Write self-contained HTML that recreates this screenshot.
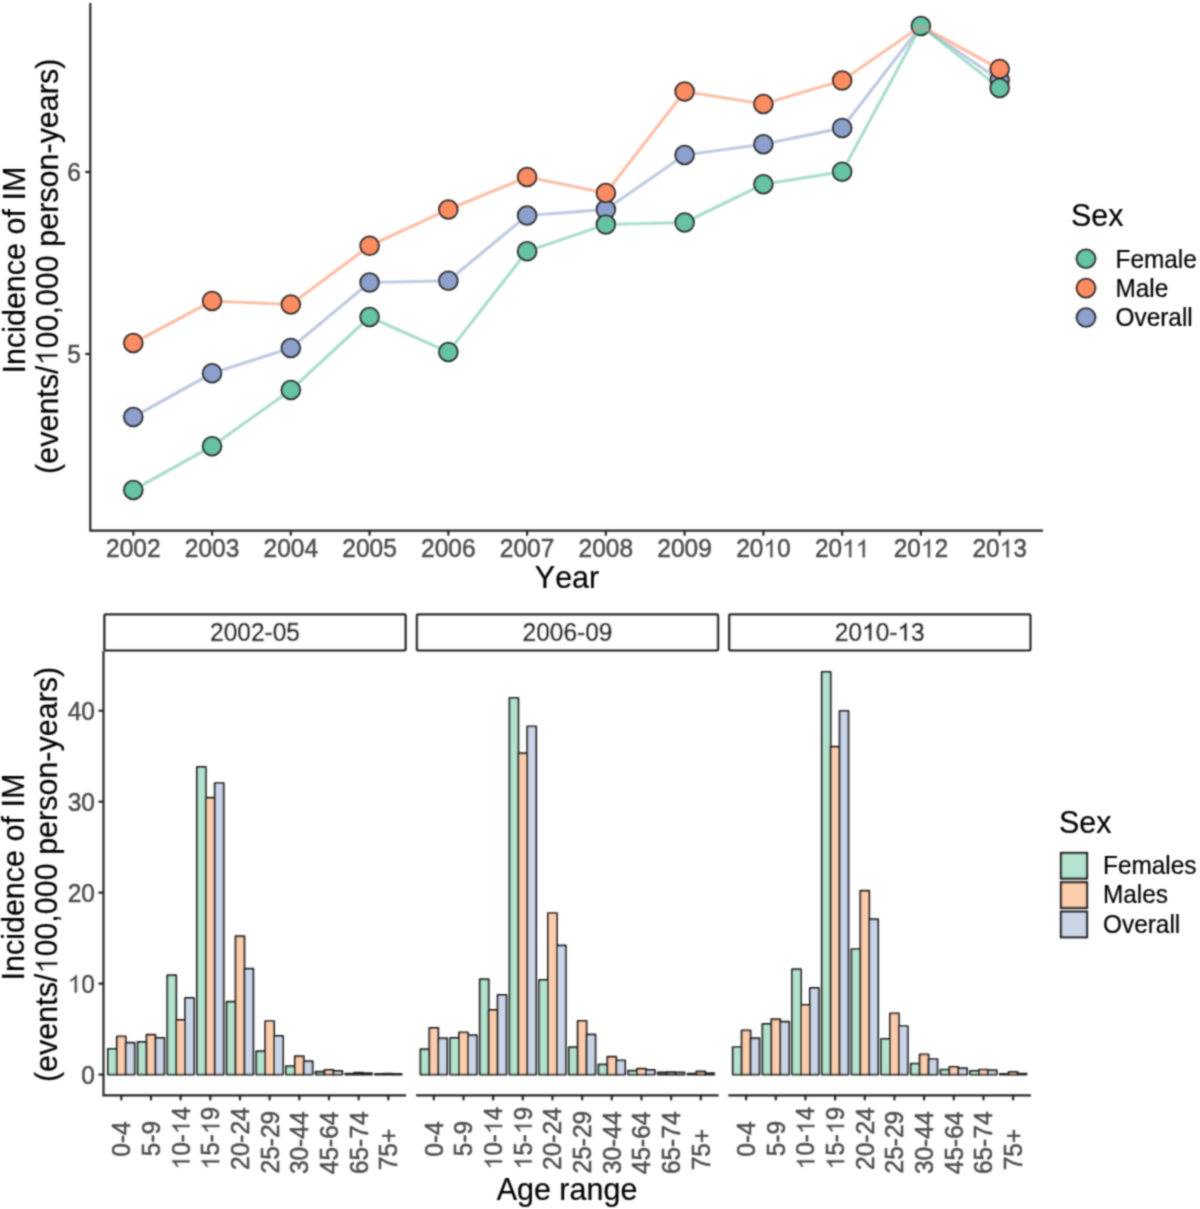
<!DOCTYPE html>
<html><head><meta charset="utf-8"><style>html,body{margin:0;padding:0;background:#fff;}svg{display:block;font-family:"Liberation Sans",sans-serif;}text{font-kerning:none;font-feature-settings:"kern" 0;}text{stroke-width:0.5px;} text[stroke="#000000"]{stroke-width:0.2px;}</style></head><body>
<svg width="1200" height="1209" viewBox="0 0 1200 1209">
<defs><filter id="bl" x="0" y="0" width="1200" height="1209" filterUnits="userSpaceOnUse"><feConvolveMatrix order="5" kernelMatrix="0.00023 0.00332 0.00809 0.00332 0.00023 0.00332 0.04785 0.11640 0.04785 0.00332 0.00809 0.11640 0.28313 0.11640 0.00809 0.00332 0.04785 0.11640 0.04785 0.00332 0.00023 0.00332 0.00809 0.00332 0.00023" preserveAlpha="false" edgeMode="duplicate"></feConvolveMatrix></filter></defs>
<rect width="1200" height="1209" fill="#fff"></rect>
<g filter="url(#bl)">
<g stroke="#262626" stroke-width="2.2" fill="none" stroke-linecap="butt">
<path d="M90.3,3.0 V530.7 H1043.0"></path>
<path d="M85.3,172.0 H90.3"></path>
<path d="M85.3,354.0 H90.3"></path>
<path d="M133.30,530.7 V535.7"></path>
<path d="M212.06,530.7 V535.7"></path>
<path d="M290.82,530.7 V535.7"></path>
<path d="M369.58,530.7 V535.7"></path>
<path d="M448.34,530.7 V535.7"></path>
<path d="M527.10,530.7 V535.7"></path>
<path d="M605.86,530.7 V535.7"></path>
<path d="M684.62,530.7 V535.7"></path>
<path d="M763.38,530.7 V535.7"></path>
<path d="M842.14,530.7 V535.7"></path>
<path d="M920.90,530.7 V535.7"></path>
<path d="M999.66,530.7 V535.7"></path>
</g>
<g fill="#4d4d4d" stroke="#4d4d4d" font-size="24.5" text-anchor="end">
<text transform="translate(81,181) scale(1,1.04)">6</text>
<text transform="translate(81,363) scale(1,1.04)">5</text>
</g>
<g fill="#4d4d4d" stroke="#4d4d4d" font-size="24.5" text-anchor="middle">
<text transform="translate(133.30,557.2) scale(1,1.04)">2002</text>
<text transform="translate(212.06,557.2) scale(1,1.04)">2003</text>
<text transform="translate(290.82,557.2) scale(1,1.04)">2004</text>
<text transform="translate(369.58,557.2) scale(1,1.04)">2005</text>
<text transform="translate(448.34,557.2) scale(1,1.04)">2006</text>
<text transform="translate(527.10,557.2) scale(1,1.04)">2007</text>
<text transform="translate(605.86,557.2) scale(1,1.04)">2008</text>
<text transform="translate(684.62,557.2) scale(1,1.04)">2009</text>
<text transform="translate(763.38,557.2) scale(1,1.04)">2010</text><g transform="translate(763.38,557.2) scale(1,1.04)"><rect x="0.46" y="-18.18" width="13.28" height="19.74" fill="#fff" stroke="none"></rect><path d="M9.11,0.00 L6.96,0.00 L6.96,-13.14 Q6.18,-12.42 4.91,-11.74 Q3.66,-11.01 2.65,-10.65 L2.65,-12.64 Q4.46,-13.45 5.81,-14.61 Q7.16,-15.77 7.72,-16.86 L9.11,-16.86 Z" fill="rgb(77, 77, 77)" stroke="rgb(77, 77, 77)" stroke-width="0.5px" stroke-linejoin="round"></path></g>
<text transform="translate(842.14,557.2) scale(1,1.04)">2011</text><g transform="translate(842.14,557.2) scale(1,1.04)"><rect x="0.46" y="-18.18" width="13.28" height="19.74" fill="#fff" stroke="none"></rect><path d="M9.11,0.00 L6.96,0.00 L6.96,-13.14 Q6.18,-12.42 4.91,-11.74 Q3.66,-11.01 2.65,-10.65 L2.65,-12.64 Q4.46,-13.45 5.81,-14.61 Q7.16,-15.77 7.72,-16.86 L9.11,-16.86 Z" fill="rgb(77, 77, 77)" stroke="rgb(77, 77, 77)" stroke-width="0.5px" stroke-linejoin="round"></path><rect x="14.08" y="-18.18" width="13.28" height="19.74" fill="#fff" stroke="none"></rect><path d="M22.73,0.00 L20.57,0.00 L20.57,-13.14 Q19.80,-12.42 18.53,-11.74 Q17.27,-11.01 16.27,-10.65 L16.27,-12.64 Q18.07,-13.45 19.43,-14.61 Q20.78,-15.77 21.34,-16.86 L22.73,-16.86 Z" fill="rgb(77, 77, 77)" stroke="rgb(77, 77, 77)" stroke-width="0.5px" stroke-linejoin="round"></path></g>
<text transform="translate(920.90,557.2) scale(1,1.04)">2012</text><g transform="translate(920.90,557.2) scale(1,1.04)"><rect x="0.46" y="-18.18" width="13.28" height="19.74" fill="#fff" stroke="none"></rect><path d="M9.11,0.00 L6.96,0.00 L6.96,-13.14 Q6.18,-12.42 4.91,-11.74 Q3.66,-11.01 2.65,-10.65 L2.65,-12.64 Q4.46,-13.45 5.81,-14.61 Q7.16,-15.77 7.72,-16.86 L9.11,-16.86 Z" fill="rgb(77, 77, 77)" stroke="rgb(77, 77, 77)" stroke-width="0.5px" stroke-linejoin="round"></path></g>
<text transform="translate(999.66,557.2) scale(1,1.04)">2013</text><g transform="translate(999.66,557.2) scale(1,1.04)"><rect x="0.46" y="-18.18" width="13.28" height="19.74" fill="#fff" stroke="none"></rect><path d="M9.11,0.00 L6.96,0.00 L6.96,-13.14 Q6.18,-12.42 4.91,-11.74 Q3.66,-11.01 2.65,-10.65 L2.65,-12.64 Q4.46,-13.45 5.81,-14.61 Q7.16,-15.77 7.72,-16.86 L9.11,-16.86 Z" fill="rgb(77, 77, 77)" stroke="rgb(77, 77, 77)" stroke-width="0.5px" stroke-linejoin="round"></path></g>
</g>
<path d="M133.30,417 L212.06,373.25 L290.82,348 L369.58,282.5 L448.34,280.75 L527.10,215.5 L605.86,209.5 L684.62,155 L763.38,144.25 L842.14,128 L920.90,26 L999.66,80" fill="none" stroke="#8da0cb" stroke-opacity="0.55" stroke-width="3.2" stroke-linejoin="round"></path>
<path d="M133.30,343 L212.06,301 L290.82,304.5 L369.58,245.75 L448.34,209.5 L527.10,177 L605.86,193 L684.62,91.5 L763.38,104 L842.14,80.5 L920.90,26 L999.66,69" fill="none" stroke="#fc8d62" stroke-opacity="0.55" stroke-width="3.2" stroke-linejoin="round"></path>
<path d="M133.30,490 L212.06,446.25 L290.82,390 L369.58,317 L448.34,352 L527.10,251.25 L605.86,224.5 L684.62,222.5 L763.38,184.25 L842.14,171.75 L920.90,26 L999.66,88" fill="none" stroke="#66c2a5" stroke-opacity="0.55" stroke-width="3.2" stroke-linejoin="round"></path>
<circle cx="133.30" cy="417" r="9.3" fill="#8da0cb" stroke="#2a2a2a" stroke-width="2.0"></circle>
<circle cx="212.06" cy="373.25" r="9.3" fill="#8da0cb" stroke="#2a2a2a" stroke-width="2.0"></circle>
<circle cx="290.82" cy="348" r="9.3" fill="#8da0cb" stroke="#2a2a2a" stroke-width="2.0"></circle>
<circle cx="369.58" cy="282.5" r="9.3" fill="#8da0cb" stroke="#2a2a2a" stroke-width="2.0"></circle>
<circle cx="448.34" cy="280.75" r="9.3" fill="#8da0cb" stroke="#2a2a2a" stroke-width="2.0"></circle>
<circle cx="527.10" cy="215.5" r="9.3" fill="#8da0cb" stroke="#2a2a2a" stroke-width="2.0"></circle>
<circle cx="605.86" cy="209.5" r="9.3" fill="#8da0cb" stroke="#2a2a2a" stroke-width="2.0"></circle>
<circle cx="684.62" cy="155" r="9.3" fill="#8da0cb" stroke="#2a2a2a" stroke-width="2.0"></circle>
<circle cx="763.38" cy="144.25" r="9.3" fill="#8da0cb" stroke="#2a2a2a" stroke-width="2.0"></circle>
<circle cx="842.14" cy="128" r="9.3" fill="#8da0cb" stroke="#2a2a2a" stroke-width="2.0"></circle>
<circle cx="999.66" cy="80" r="9.3" fill="#8da0cb" stroke="#2a2a2a" stroke-width="2.0"></circle>
<circle cx="133.30" cy="343" r="9.3" fill="#fc8d62" stroke="#2a2a2a" stroke-width="2.0"></circle>
<circle cx="212.06" cy="301" r="9.3" fill="#fc8d62" stroke="#2a2a2a" stroke-width="2.0"></circle>
<circle cx="290.82" cy="304.5" r="9.3" fill="#fc8d62" stroke="#2a2a2a" stroke-width="2.0"></circle>
<circle cx="369.58" cy="245.75" r="9.3" fill="#fc8d62" stroke="#2a2a2a" stroke-width="2.0"></circle>
<circle cx="448.34" cy="209.5" r="9.3" fill="#fc8d62" stroke="#2a2a2a" stroke-width="2.0"></circle>
<circle cx="527.10" cy="177" r="9.3" fill="#fc8d62" stroke="#2a2a2a" stroke-width="2.0"></circle>
<circle cx="605.86" cy="193" r="9.3" fill="#fc8d62" stroke="#2a2a2a" stroke-width="2.0"></circle>
<circle cx="684.62" cy="91.5" r="9.3" fill="#fc8d62" stroke="#2a2a2a" stroke-width="2.0"></circle>
<circle cx="763.38" cy="104" r="9.3" fill="#fc8d62" stroke="#2a2a2a" stroke-width="2.0"></circle>
<circle cx="842.14" cy="80.5" r="9.3" fill="#fc8d62" stroke="#2a2a2a" stroke-width="2.0"></circle>
<circle cx="999.66" cy="69" r="9.3" fill="#fc8d62" stroke="#2a2a2a" stroke-width="2.0"></circle>
<circle cx="133.30" cy="490" r="9.3" fill="#66c2a5" stroke="#2a2a2a" stroke-width="2.0"></circle>
<circle cx="212.06" cy="446.25" r="9.3" fill="#66c2a5" stroke="#2a2a2a" stroke-width="2.0"></circle>
<circle cx="290.82" cy="390" r="9.3" fill="#66c2a5" stroke="#2a2a2a" stroke-width="2.0"></circle>
<circle cx="369.58" cy="317" r="9.3" fill="#66c2a5" stroke="#2a2a2a" stroke-width="2.0"></circle>
<circle cx="448.34" cy="352" r="9.3" fill="#66c2a5" stroke="#2a2a2a" stroke-width="2.0"></circle>
<circle cx="527.10" cy="251.25" r="9.3" fill="#66c2a5" stroke="#2a2a2a" stroke-width="2.0"></circle>
<circle cx="605.86" cy="224.5" r="9.3" fill="#66c2a5" stroke="#2a2a2a" stroke-width="2.0"></circle>
<circle cx="684.62" cy="222.5" r="9.3" fill="#66c2a5" stroke="#2a2a2a" stroke-width="2.0"></circle>
<circle cx="763.38" cy="184.25" r="9.3" fill="#66c2a5" stroke="#2a2a2a" stroke-width="2.0"></circle>
<circle cx="842.14" cy="171.75" r="9.3" fill="#66c2a5" stroke="#2a2a2a" stroke-width="2.0"></circle>
<circle cx="999.66" cy="88" r="9.3" fill="#66c2a5" stroke="#2a2a2a" stroke-width="2.0"></circle>
<circle cx="920.90" cy="26" r="9.3" fill="#66c2a5" stroke="#2a2a2a" stroke-width="2.0"></circle>
<clipPath id="c12"><circle cx="920.90" cy="26" r="9.3"></circle></clipPath>
<g clip-path="url(#c12)">
<path d="M842.14,128 L920.90,26 L999.66,80" fill="none" stroke="#8da0cb" stroke-opacity="0.55" stroke-width="3.2"></path>
<path d="M842.14,80.5 L920.90,26 L999.66,69" fill="none" stroke="#fc8d62" stroke-opacity="0.55" stroke-width="3.2"></path>
<path d="M842.14,171.75 L920.90,26 L999.66,88" fill="none" stroke="#66c2a5" stroke-opacity="0.55" stroke-width="3.2"></path>
</g>
<text transform="translate(567,587.8) scale(1,1.04)" font-size="30.5" fill="#000000" stroke="#000000" text-anchor="middle">Year</text>
<text transform="translate(24.5,270.1) rotate(-90) scale(1,1.04)" font-size="30.5" fill="#000000" stroke="#000000" text-anchor="middle">Incidence of IM</text>
<text transform="translate(57.6,266.3) rotate(-90) scale(1,1.04)" font-size="30.5" fill="#000000" stroke="#000000" text-anchor="middle">(events/100,000 person-years)</text><g transform="translate(57.6,266.3) rotate(-90) scale(1,1.04)"><rect x="-98.58" y="-22.64" width="16.53" height="24.57" fill="#fff" stroke="none"></rect><path d="M-87.81,0.00 L-90.49,0.00 L-90.49,-16.35 Q-91.46,-15.46 -93.04,-14.61 Q-94.60,-13.70 -95.86,-13.25 L-95.86,-15.74 Q-93.61,-16.74 -91.92,-18.18 Q-90.24,-19.63 -89.54,-20.98 L-87.81,-20.98 Z" fill="rgb(0, 0, 0)" stroke="rgb(0, 0, 0)" stroke-width="0.2px" stroke-linejoin="round"></path></g>
<text transform="translate(1071,226.25) scale(1,1.04)" font-size="30.5" fill="#000000" stroke="#000000">Sex</text>
<path d="M1074,258.75 H1098" stroke="#66c2a5" stroke-opacity="0.35" stroke-width="3"></path>
<circle cx="1086" cy="258.75" r="9.3" fill="#66c2a5" stroke="#2a2a2a" stroke-width="2.0"></circle>
<text transform="translate(1115.5,267.75) scale(1,1.04)" font-size="24.4" fill="#000000" stroke="#000000">Female</text>
<path d="M1074,288.1 H1098" stroke="#fc8d62" stroke-opacity="0.35" stroke-width="3"></path>
<circle cx="1086" cy="288.1" r="9.3" fill="#fc8d62" stroke="#2a2a2a" stroke-width="2.0"></circle>
<text transform="translate(1115.5,296.9) scale(1,1.04)" font-size="24.4" fill="#000000" stroke="#000000">Male</text>
<path d="M1074,317.5 H1098" stroke="#8da0cb" stroke-opacity="0.35" stroke-width="3"></path>
<circle cx="1086" cy="317.5" r="9.3" fill="#8da0cb" stroke="#2a2a2a" stroke-width="2.0"></circle>
<text transform="translate(1115.5,325.6) scale(1,1.04)" font-size="24.4" fill="#000000" stroke="#000000">Overall</text>
<rect x="104.50" y="614.5" width="301.00" height="35.7" fill="#fff" stroke="#262626" stroke-width="2.5" rx="1"></rect>
<text transform="translate(255.00,640.6) scale(1,1.04)" font-size="24.5" fill="#1a1a1a" stroke="#1a1a1a" text-anchor="middle">2002-05</text>
<g stroke="#222" stroke-width="1.9" stroke-linejoin="round">
<rect x="107.95" y="1048.90" width="8.90" height="25.70" fill="#b3e2cd"></rect>
<rect x="116.85" y="1036.40" width="8.90" height="38.20" fill="#fdcdac"></rect>
<rect x="125.75" y="1042.70" width="8.90" height="31.90" fill="#cbd5e8"></rect>
<rect x="137.62" y="1042.00" width="8.90" height="32.60" fill="#b3e2cd"></rect>
<rect x="146.52" y="1034.70" width="8.90" height="39.90" fill="#fdcdac"></rect>
<rect x="155.42" y="1038.00" width="8.90" height="36.60" fill="#cbd5e8"></rect>
<rect x="167.28" y="975.30" width="8.90" height="99.30" fill="#b3e2cd"></rect>
<rect x="176.18" y="1020.00" width="8.90" height="54.60" fill="#fdcdac"></rect>
<rect x="185.08" y="998.00" width="8.90" height="76.60" fill="#cbd5e8"></rect>
<rect x="196.95" y="767.00" width="8.90" height="307.60" fill="#b3e2cd"></rect>
<rect x="205.85" y="797.70" width="8.90" height="276.90" fill="#fdcdac"></rect>
<rect x="214.75" y="783.10" width="8.90" height="291.50" fill="#cbd5e8"></rect>
<rect x="226.62" y="1001.70" width="8.90" height="72.90" fill="#b3e2cd"></rect>
<rect x="235.52" y="936.30" width="8.90" height="138.30" fill="#fdcdac"></rect>
<rect x="244.42" y="968.70" width="8.90" height="105.90" fill="#cbd5e8"></rect>
<rect x="256.28" y="1051.30" width="8.90" height="23.30" fill="#b3e2cd"></rect>
<rect x="265.18" y="1021.10" width="8.90" height="53.50" fill="#fdcdac"></rect>
<rect x="274.08" y="1036.00" width="8.90" height="38.60" fill="#cbd5e8"></rect>
<rect x="285.95" y="1066.30" width="8.90" height="8.30" fill="#b3e2cd"></rect>
<rect x="294.85" y="1056.30" width="8.90" height="18.30" fill="#fdcdac"></rect>
<rect x="303.75" y="1061.30" width="8.90" height="13.30" fill="#cbd5e8"></rect>
<rect x="315.62" y="1071.70" width="8.90" height="2.90" fill="#b3e2cd"></rect>
<rect x="324.52" y="1070.00" width="8.90" height="4.60" fill="#fdcdac"></rect>
<rect x="333.42" y="1071.00" width="8.90" height="3.60" fill="#cbd5e8"></rect>
<rect x="345.28" y="1073.70" width="8.90" height="0.90" fill="#b3e2cd"></rect>
<rect x="354.18" y="1072.70" width="8.90" height="1.90" fill="#fdcdac"></rect>
<rect x="363.08" y="1073.30" width="8.90" height="1.30" fill="#cbd5e8"></rect>
<rect x="374.95" y="1074.00" width="8.90" height="0.60" fill="#b3e2cd"></rect>
<rect x="383.85" y="1073.80" width="8.90" height="0.80" fill="#fdcdac"></rect>
<rect x="392.75" y="1074.00" width="8.90" height="0.60" fill="#cbd5e8"></rect>
</g>
<g stroke="#262626" stroke-width="2.2" fill="none">
<path d="M103.5,651.0 V1095.3 H406.1"></path>
<path d="M121.30,1095.3 V1100.3"></path>
<path d="M150.97,1095.3 V1100.3"></path>
<path d="M180.63,1095.3 V1100.3"></path>
<path d="M210.30,1095.3 V1100.3"></path>
<path d="M239.97,1095.3 V1100.3"></path>
<path d="M269.63,1095.3 V1100.3"></path>
<path d="M299.30,1095.3 V1100.3"></path>
<path d="M328.97,1095.3 V1100.3"></path>
<path d="M358.63,1095.3 V1100.3"></path>
<path d="M388.30,1095.3 V1100.3"></path>
</g>
<g font-size="24.5" fill="#4d4d4d" stroke="#4d4d4d" text-anchor="middle">
<text transform="translate(130.30,1139.00) rotate(-90) scale(1,1.04)">0-4</text>
<text transform="translate(159.97,1138.50) rotate(-90) scale(1,1.04)">5-9</text>
<text transform="translate(189.63,1138.10) rotate(-90) scale(1,1.04)">10-14</text><g transform="translate(189.63,1138.10) rotate(-90) scale(1,1.04)"><rect x="-30.84" y="-18.18" width="13.28" height="19.74" fill="#fff" stroke="none"></rect><path d="M-22.19,0.00 L-24.35,0.00 L-24.35,-13.14 Q-25.12,-12.42 -26.39,-11.74 Q-27.65,-11.01 -28.65,-10.65 L-28.65,-12.64 Q-26.85,-13.45 -25.49,-14.61 Q-24.14,-15.77 -23.58,-16.86 L-22.19,-16.86 Z" fill="rgb(77, 77, 77)" stroke="rgb(77, 77, 77)" stroke-width="0.5px" stroke-linejoin="round"></path><rect x="4.55" y="-18.18" width="13.28" height="19.74" fill="#fff" stroke="none"></rect><path d="M13.20,0.00 L11.05,0.00 L11.05,-13.14 Q10.27,-12.42 9.00,-11.74 Q7.75,-11.01 6.74,-10.65 L6.74,-12.64 Q8.55,-13.45 9.90,-14.61 Q11.25,-15.77 11.81,-16.86 L13.20,-16.86 Z" fill="rgb(77, 77, 77)" stroke="rgb(77, 77, 77)" stroke-width="0.5px" stroke-linejoin="round"></path></g>
<text transform="translate(219.30,1138.10) rotate(-90) scale(1,1.04)">15-19</text><g transform="translate(219.30,1138.10) rotate(-90) scale(1,1.04)"><rect x="-30.84" y="-18.18" width="13.28" height="19.74" fill="#fff" stroke="none"></rect><path d="M-22.19,0.00 L-24.35,0.00 L-24.35,-13.14 Q-25.12,-12.42 -26.39,-11.74 Q-27.65,-11.01 -28.65,-10.65 L-28.65,-12.64 Q-26.85,-13.45 -25.49,-14.61 Q-24.14,-15.77 -23.58,-16.86 L-22.19,-16.86 Z" fill="rgb(77, 77, 77)" stroke="rgb(77, 77, 77)" stroke-width="0.5px" stroke-linejoin="round"></path><rect x="4.55" y="-18.18" width="13.28" height="19.74" fill="#fff" stroke="none"></rect><path d="M13.20,0.00 L11.05,0.00 L11.05,-13.14 Q10.27,-12.42 9.00,-11.74 Q7.75,-11.01 6.74,-10.65 L6.74,-12.64 Q8.55,-13.45 9.90,-14.61 Q11.25,-15.77 11.81,-16.86 L13.20,-16.86 Z" fill="rgb(77, 77, 77)" stroke="rgb(77, 77, 77)" stroke-width="0.5px" stroke-linejoin="round"></path></g>
<text transform="translate(248.97,1138.60) rotate(-90) scale(1,1.04)">20-24</text>
<text transform="translate(278.63,1142.10) rotate(-90) scale(1,1.04)">25-29</text>
<text transform="translate(308.30,1142.80) rotate(-90) scale(1,1.04)">30-44</text>
<text transform="translate(337.97,1142.90) rotate(-90) scale(1,1.04)">45-64</text>
<text transform="translate(367.63,1142.80) rotate(-90) scale(1,1.04)">65-74</text>
<text transform="translate(397.30,1149.50) rotate(-90) scale(1,1.04)">75+</text>
</g>
<rect x="417.00" y="614.5" width="301.00" height="35.7" fill="#fff" stroke="#262626" stroke-width="2.5" rx="1"></rect>
<text transform="translate(567.50,640.6) scale(1,1.04)" font-size="24.5" fill="#1a1a1a" stroke="#1a1a1a" text-anchor="middle">2006-09</text>
<g stroke="#222" stroke-width="1.9" stroke-linejoin="round">
<rect x="420.45" y="1049.30" width="8.90" height="25.30" fill="#b3e2cd"></rect>
<rect x="429.35" y="1028.00" width="8.90" height="46.60" fill="#fdcdac"></rect>
<rect x="438.25" y="1038.30" width="8.90" height="36.30" fill="#cbd5e8"></rect>
<rect x="450.12" y="1038.00" width="8.90" height="36.60" fill="#b3e2cd"></rect>
<rect x="459.02" y="1032.40" width="8.90" height="42.20" fill="#fdcdac"></rect>
<rect x="467.92" y="1035.30" width="8.90" height="39.30" fill="#cbd5e8"></rect>
<rect x="479.78" y="979.30" width="8.90" height="95.30" fill="#b3e2cd"></rect>
<rect x="488.68" y="1010.00" width="8.90" height="64.60" fill="#fdcdac"></rect>
<rect x="497.58" y="995.00" width="8.90" height="79.60" fill="#cbd5e8"></rect>
<rect x="509.45" y="697.90" width="8.90" height="376.70" fill="#b3e2cd"></rect>
<rect x="518.35" y="753.30" width="8.90" height="321.30" fill="#fdcdac"></rect>
<rect x="527.25" y="726.40" width="8.90" height="348.20" fill="#cbd5e8"></rect>
<rect x="539.12" y="980.00" width="8.90" height="94.60" fill="#b3e2cd"></rect>
<rect x="548.02" y="913.10" width="8.90" height="161.50" fill="#fdcdac"></rect>
<rect x="556.92" y="945.50" width="8.90" height="129.10" fill="#cbd5e8"></rect>
<rect x="568.78" y="1047.30" width="8.90" height="27.30" fill="#b3e2cd"></rect>
<rect x="577.68" y="1020.90" width="8.90" height="53.70" fill="#fdcdac"></rect>
<rect x="586.58" y="1034.50" width="8.90" height="40.10" fill="#cbd5e8"></rect>
<rect x="598.45" y="1064.50" width="8.90" height="10.10" fill="#b3e2cd"></rect>
<rect x="607.35" y="1056.70" width="8.90" height="17.90" fill="#fdcdac"></rect>
<rect x="616.25" y="1060.40" width="8.90" height="14.20" fill="#cbd5e8"></rect>
<rect x="628.12" y="1070.80" width="8.90" height="3.80" fill="#b3e2cd"></rect>
<rect x="637.02" y="1068.75" width="8.90" height="5.85" fill="#fdcdac"></rect>
<rect x="645.92" y="1070.00" width="8.90" height="4.60" fill="#cbd5e8"></rect>
<rect x="657.78" y="1072.50" width="8.90" height="2.10" fill="#b3e2cd"></rect>
<rect x="666.68" y="1072.20" width="8.90" height="2.40" fill="#fdcdac"></rect>
<rect x="675.58" y="1072.40" width="8.90" height="2.20" fill="#cbd5e8"></rect>
<rect x="687.45" y="1073.75" width="8.90" height="0.85" fill="#b3e2cd"></rect>
<rect x="696.35" y="1071.50" width="8.90" height="3.10" fill="#fdcdac"></rect>
<rect x="705.25" y="1073.30" width="8.90" height="1.30" fill="#cbd5e8"></rect>
</g>
<g stroke="#262626" stroke-width="2.2" fill="none">
<path d="M416.0,1095.3 H718.6"></path>
<path d="M433.80,1095.3 V1100.3"></path>
<path d="M463.47,1095.3 V1100.3"></path>
<path d="M493.13,1095.3 V1100.3"></path>
<path d="M522.80,1095.3 V1100.3"></path>
<path d="M552.47,1095.3 V1100.3"></path>
<path d="M582.13,1095.3 V1100.3"></path>
<path d="M611.80,1095.3 V1100.3"></path>
<path d="M641.47,1095.3 V1100.3"></path>
<path d="M671.13,1095.3 V1100.3"></path>
<path d="M700.80,1095.3 V1100.3"></path>
</g>
<g font-size="24.5" fill="#4d4d4d" stroke="#4d4d4d" text-anchor="middle">
<text transform="translate(442.80,1139.00) rotate(-90) scale(1,1.04)">0-4</text>
<text transform="translate(472.47,1138.50) rotate(-90) scale(1,1.04)">5-9</text>
<text transform="translate(502.13,1138.10) rotate(-90) scale(1,1.04)">10-14</text><g transform="translate(502.13,1138.10) rotate(-90) scale(1,1.04)"><rect x="-30.84" y="-18.18" width="13.28" height="19.74" fill="#fff" stroke="none"></rect><path d="M-22.19,0.00 L-24.35,0.00 L-24.35,-13.14 Q-25.12,-12.42 -26.39,-11.74 Q-27.65,-11.01 -28.65,-10.65 L-28.65,-12.64 Q-26.85,-13.45 -25.49,-14.61 Q-24.14,-15.77 -23.58,-16.86 L-22.19,-16.86 Z" fill="rgb(77, 77, 77)" stroke="rgb(77, 77, 77)" stroke-width="0.5px" stroke-linejoin="round"></path><rect x="4.55" y="-18.18" width="13.28" height="19.74" fill="#fff" stroke="none"></rect><path d="M13.20,0.00 L11.05,0.00 L11.05,-13.14 Q10.27,-12.42 9.00,-11.74 Q7.75,-11.01 6.74,-10.65 L6.74,-12.64 Q8.55,-13.45 9.90,-14.61 Q11.25,-15.77 11.81,-16.86 L13.20,-16.86 Z" fill="rgb(77, 77, 77)" stroke="rgb(77, 77, 77)" stroke-width="0.5px" stroke-linejoin="round"></path></g>
<text transform="translate(531.80,1138.10) rotate(-90) scale(1,1.04)">15-19</text><g transform="translate(531.80,1138.10) rotate(-90) scale(1,1.04)"><rect x="-30.84" y="-18.18" width="13.28" height="19.74" fill="#fff" stroke="none"></rect><path d="M-22.19,0.00 L-24.35,0.00 L-24.35,-13.14 Q-25.12,-12.42 -26.39,-11.74 Q-27.65,-11.01 -28.65,-10.65 L-28.65,-12.64 Q-26.85,-13.45 -25.49,-14.61 Q-24.14,-15.77 -23.58,-16.86 L-22.19,-16.86 Z" fill="rgb(77, 77, 77)" stroke="rgb(77, 77, 77)" stroke-width="0.5px" stroke-linejoin="round"></path><rect x="4.55" y="-18.18" width="13.28" height="19.74" fill="#fff" stroke="none"></rect><path d="M13.20,0.00 L11.05,0.00 L11.05,-13.14 Q10.27,-12.42 9.00,-11.74 Q7.75,-11.01 6.74,-10.65 L6.74,-12.64 Q8.55,-13.45 9.90,-14.61 Q11.25,-15.77 11.81,-16.86 L13.20,-16.86 Z" fill="rgb(77, 77, 77)" stroke="rgb(77, 77, 77)" stroke-width="0.5px" stroke-linejoin="round"></path></g>
<text transform="translate(561.47,1138.60) rotate(-90) scale(1,1.04)">20-24</text>
<text transform="translate(591.13,1142.10) rotate(-90) scale(1,1.04)">25-29</text>
<text transform="translate(620.80,1142.80) rotate(-90) scale(1,1.04)">30-44</text>
<text transform="translate(650.47,1142.90) rotate(-90) scale(1,1.04)">45-64</text>
<text transform="translate(680.13,1142.80) rotate(-90) scale(1,1.04)">65-74</text>
<text transform="translate(709.80,1149.50) rotate(-90) scale(1,1.04)">75+</text>
</g>
<rect x="729.30" y="614.5" width="301.00" height="35.7" fill="#fff" stroke="#262626" stroke-width="2.5" rx="1"></rect>
<text transform="translate(879.80,640.6) scale(1,1.04)" font-size="24.5" fill="#1a1a1a" stroke="#1a1a1a" text-anchor="middle">2010-13</text><g transform="translate(879.80,640.6) scale(1,1.04)"><rect x="-17.23" y="-18.18" width="13.28" height="19.74" fill="#fff" stroke="none"></rect><path d="M-8.58,0.00 L-10.74,0.00 L-10.74,-13.14 Q-11.52,-12.42 -12.78,-11.74 Q-14.04,-11.01 -15.04,-10.65 L-15.04,-12.64 Q-13.24,-13.45 -11.89,-14.61 Q-10.53,-15.77 -9.97,-16.86 L-8.58,-16.86 Z" fill="rgb(26, 26, 26)" stroke="rgb(26, 26, 26)" stroke-width="0.5px" stroke-linejoin="round"></path><rect x="18.16" y="-18.18" width="13.28" height="19.74" fill="#fff" stroke="none"></rect><path d="M26.81,0.00 L24.66,0.00 L24.66,-13.14 Q23.88,-12.42 22.61,-11.74 Q21.35,-11.01 20.35,-10.65 L20.35,-12.64 Q22.16,-13.45 23.51,-14.61 Q24.86,-15.77 25.42,-16.86 L26.81,-16.86 Z" fill="rgb(26, 26, 26)" stroke="rgb(26, 26, 26)" stroke-width="0.5px" stroke-linejoin="round"></path></g>
<g stroke="#222" stroke-width="1.9" stroke-linejoin="round">
<rect x="732.75" y="1047.10" width="8.90" height="27.50" fill="#b3e2cd"></rect>
<rect x="741.65" y="1030.40" width="8.90" height="44.20" fill="#fdcdac"></rect>
<rect x="750.55" y="1038.30" width="8.90" height="36.30" fill="#cbd5e8"></rect>
<rect x="762.42" y="1024.00" width="8.90" height="50.60" fill="#b3e2cd"></rect>
<rect x="771.32" y="1019.30" width="8.90" height="55.30" fill="#fdcdac"></rect>
<rect x="780.22" y="1021.70" width="8.90" height="52.90" fill="#cbd5e8"></rect>
<rect x="792.08" y="969.30" width="8.90" height="105.30" fill="#b3e2cd"></rect>
<rect x="800.98" y="1004.90" width="8.90" height="69.70" fill="#fdcdac"></rect>
<rect x="809.88" y="988.00" width="8.90" height="86.60" fill="#cbd5e8"></rect>
<rect x="821.75" y="671.90" width="8.90" height="402.70" fill="#b3e2cd"></rect>
<rect x="830.65" y="746.80" width="8.90" height="327.80" fill="#fdcdac"></rect>
<rect x="839.55" y="710.90" width="8.90" height="363.70" fill="#cbd5e8"></rect>
<rect x="851.42" y="949.10" width="8.90" height="125.50" fill="#b3e2cd"></rect>
<rect x="860.32" y="890.80" width="8.90" height="183.80" fill="#fdcdac"></rect>
<rect x="869.22" y="919.30" width="8.90" height="155.30" fill="#cbd5e8"></rect>
<rect x="881.08" y="1038.90" width="8.90" height="35.70" fill="#b3e2cd"></rect>
<rect x="889.98" y="1013.40" width="8.90" height="61.20" fill="#fdcdac"></rect>
<rect x="898.88" y="1026.10" width="8.90" height="48.50" fill="#cbd5e8"></rect>
<rect x="910.75" y="1063.65" width="8.90" height="10.95" fill="#b3e2cd"></rect>
<rect x="919.65" y="1054.40" width="8.90" height="20.20" fill="#fdcdac"></rect>
<rect x="928.55" y="1059.10" width="8.90" height="15.50" fill="#cbd5e8"></rect>
<rect x="940.42" y="1069.60" width="8.90" height="5.00" fill="#b3e2cd"></rect>
<rect x="949.32" y="1066.90" width="8.90" height="7.70" fill="#fdcdac"></rect>
<rect x="958.22" y="1068.20" width="8.90" height="6.40" fill="#cbd5e8"></rect>
<rect x="970.08" y="1071.00" width="8.90" height="3.60" fill="#b3e2cd"></rect>
<rect x="978.98" y="1069.60" width="8.90" height="5.00" fill="#fdcdac"></rect>
<rect x="987.88" y="1070.20" width="8.90" height="4.40" fill="#cbd5e8"></rect>
<rect x="999.75" y="1073.90" width="8.90" height="0.70" fill="#b3e2cd"></rect>
<rect x="1008.65" y="1071.90" width="8.90" height="2.70" fill="#fdcdac"></rect>
<rect x="1017.55" y="1073.60" width="8.90" height="1.00" fill="#cbd5e8"></rect>
</g>
<g stroke="#262626" stroke-width="2.2" fill="none">
<path d="M728.3,1095.3 H1030.9"></path>
<path d="M746.10,1095.3 V1100.3"></path>
<path d="M775.77,1095.3 V1100.3"></path>
<path d="M805.43,1095.3 V1100.3"></path>
<path d="M835.10,1095.3 V1100.3"></path>
<path d="M864.77,1095.3 V1100.3"></path>
<path d="M894.43,1095.3 V1100.3"></path>
<path d="M924.10,1095.3 V1100.3"></path>
<path d="M953.77,1095.3 V1100.3"></path>
<path d="M983.43,1095.3 V1100.3"></path>
<path d="M1013.10,1095.3 V1100.3"></path>
</g>
<g font-size="24.5" fill="#4d4d4d" stroke="#4d4d4d" text-anchor="middle">
<text transform="translate(755.10,1139.00) rotate(-90) scale(1,1.04)">0-4</text>
<text transform="translate(784.77,1138.50) rotate(-90) scale(1,1.04)">5-9</text>
<text transform="translate(814.43,1138.10) rotate(-90) scale(1,1.04)">10-14</text><g transform="translate(814.43,1138.10) rotate(-90) scale(1,1.04)"><rect x="-30.84" y="-18.18" width="13.28" height="19.74" fill="#fff" stroke="none"></rect><path d="M-22.19,0.00 L-24.35,0.00 L-24.35,-13.14 Q-25.12,-12.42 -26.39,-11.74 Q-27.65,-11.01 -28.65,-10.65 L-28.65,-12.64 Q-26.85,-13.45 -25.49,-14.61 Q-24.14,-15.77 -23.58,-16.86 L-22.19,-16.86 Z" fill="rgb(77, 77, 77)" stroke="rgb(77, 77, 77)" stroke-width="0.5px" stroke-linejoin="round"></path><rect x="4.55" y="-18.18" width="13.28" height="19.74" fill="#fff" stroke="none"></rect><path d="M13.20,0.00 L11.05,0.00 L11.05,-13.14 Q10.27,-12.42 9.00,-11.74 Q7.75,-11.01 6.74,-10.65 L6.74,-12.64 Q8.55,-13.45 9.90,-14.61 Q11.25,-15.77 11.81,-16.86 L13.20,-16.86 Z" fill="rgb(77, 77, 77)" stroke="rgb(77, 77, 77)" stroke-width="0.5px" stroke-linejoin="round"></path></g>
<text transform="translate(844.10,1138.10) rotate(-90) scale(1,1.04)">15-19</text><g transform="translate(844.10,1138.10) rotate(-90) scale(1,1.04)"><rect x="-30.84" y="-18.18" width="13.28" height="19.74" fill="#fff" stroke="none"></rect><path d="M-22.19,0.00 L-24.35,0.00 L-24.35,-13.14 Q-25.12,-12.42 -26.39,-11.74 Q-27.65,-11.01 -28.65,-10.65 L-28.65,-12.64 Q-26.85,-13.45 -25.49,-14.61 Q-24.14,-15.77 -23.58,-16.86 L-22.19,-16.86 Z" fill="rgb(77, 77, 77)" stroke="rgb(77, 77, 77)" stroke-width="0.5px" stroke-linejoin="round"></path><rect x="4.55" y="-18.18" width="13.28" height="19.74" fill="#fff" stroke="none"></rect><path d="M13.20,0.00 L11.05,0.00 L11.05,-13.14 Q10.27,-12.42 9.00,-11.74 Q7.75,-11.01 6.74,-10.65 L6.74,-12.64 Q8.55,-13.45 9.90,-14.61 Q11.25,-15.77 11.81,-16.86 L13.20,-16.86 Z" fill="rgb(77, 77, 77)" stroke="rgb(77, 77, 77)" stroke-width="0.5px" stroke-linejoin="round"></path></g>
<text transform="translate(873.77,1138.60) rotate(-90) scale(1,1.04)">20-24</text>
<text transform="translate(903.43,1142.10) rotate(-90) scale(1,1.04)">25-29</text>
<text transform="translate(933.10,1142.80) rotate(-90) scale(1,1.04)">30-44</text>
<text transform="translate(962.77,1142.90) rotate(-90) scale(1,1.04)">45-64</text>
<text transform="translate(992.43,1142.80) rotate(-90) scale(1,1.04)">65-74</text>
<text transform="translate(1022.10,1149.50) rotate(-90) scale(1,1.04)">75+</text>
</g>
<g stroke="#262626" stroke-width="2.2">
<path d="M98.5,1074.60 H103.5"></path>
<path d="M98.5,983.64 H103.5"></path>
<path d="M98.5,892.68 H103.5"></path>
<path d="M98.5,801.72 H103.5"></path>
<path d="M98.5,710.76 H103.5"></path>
</g>
<g font-size="24.5" fill="#4d4d4d" stroke="#4d4d4d" text-anchor="end">
<text transform="translate(95,1083.60) scale(1,1.04)">0</text>
<text transform="translate(95,992.64) scale(1,1.04)">10</text><g transform="translate(95,992.64) scale(1,1.04)"><rect x="-26.77" y="-18.18" width="13.28" height="19.74" fill="#fff" stroke="none"></rect><path d="M-18.12,0.00 L-20.27,0.00 L-20.27,-13.14 Q-21.05,-12.42 -22.32,-11.74 Q-23.57,-11.01 -24.58,-10.65 L-24.58,-12.64 Q-22.77,-13.45 -21.42,-14.61 Q-20.07,-15.77 -19.51,-16.86 L-18.12,-16.86 Z" fill="rgb(77, 77, 77)" stroke="rgb(77, 77, 77)" stroke-width="0.5px" stroke-linejoin="round"></path></g>
<text transform="translate(95,901.68) scale(1,1.04)">20</text>
<text transform="translate(95,810.72) scale(1,1.04)">30</text>
<text transform="translate(95,719.76) scale(1,1.04)">40</text>
</g>
<text transform="translate(567,1199.7) scale(1,1.04)" font-size="30.5" fill="#000000" stroke="#000000" text-anchor="middle">Age range</text>
<text transform="translate(24.3,877.1) rotate(-90) scale(1,1.04)" font-size="30.5" fill="#000000" stroke="#000000" text-anchor="middle">Incidence of IM</text>
<text transform="translate(57.4,874.4) rotate(-90) scale(1,1.04)" font-size="30.5" fill="#000000" stroke="#000000" text-anchor="middle">(events/100,000 person-years)</text><g transform="translate(57.4,874.4) rotate(-90) scale(1,1.04)"><rect x="-98.58" y="-22.64" width="16.53" height="24.57" fill="#fff" stroke="none"></rect><path d="M-87.81,0.00 L-90.49,0.00 L-90.49,-16.35 Q-91.46,-15.46 -93.04,-14.61 Q-94.60,-13.70 -95.86,-13.25 L-95.86,-15.74 Q-93.61,-16.74 -91.92,-18.18 Q-90.24,-19.63 -89.54,-20.98 L-87.81,-20.98 Z" fill="rgb(0, 0, 0)" stroke="rgb(0, 0, 0)" stroke-width="0.2px" stroke-linejoin="round"></path></g>
<text transform="translate(1059,832.7) scale(1,1.04)" font-size="30.5" fill="#000000" stroke="#000000">Sex</text>
<rect x="1061" y="853" width="26" height="25.6" fill="#b3e2cd" stroke="#222" stroke-width="2.3"></rect>
<text transform="translate(1103,874) scale(1,1.04)" font-size="24.4" fill="#000000" stroke="#000000">Females</text>
<rect x="1061" y="882.3" width="26" height="25.6" fill="#fdcdac" stroke="#222" stroke-width="2.3"></rect>
<text transform="translate(1103,903.3) scale(1,1.04)" font-size="24.4" fill="#000000" stroke="#000000">Males</text>
<rect x="1061" y="911.6" width="26" height="25.6" fill="#cbd5e8" stroke="#222" stroke-width="2.3"></rect>
<text transform="translate(1103,932.7) scale(1,1.04)" font-size="24.4" fill="#000000" stroke="#000000">Overall</text>
</g>
</svg></body></html>
